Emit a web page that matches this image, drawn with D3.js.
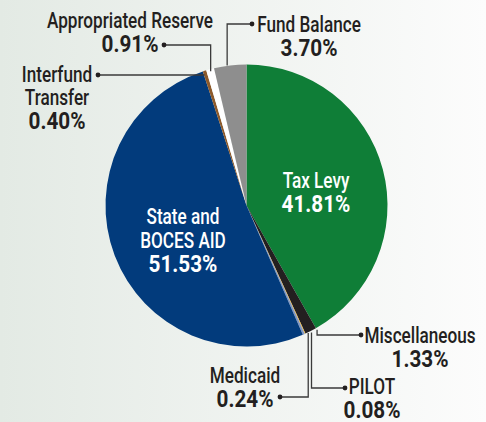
<!DOCTYPE html>
<html>
<head>
<meta charset="utf-8">
<script src="https://cdn.jsdelivr.net/npm/d3@7"></script>
<style>
  html, body { margin: 0; padding: 0; }
  body { width: 486px; height: 422px; overflow: hidden; }
  text { font-family: Roboto, "DejaVu Sans Condensed", sans-serif; }
</style>
</head>
<body>
<div id="chart"></div>
<script>
// Revenue sources, clockwise from 12 o'clock
const categories = ["Tax Levy", "Miscellaneous", "PILOT", "Medicaid", "State and BOCES AID",
  "Interfund Transfer", "Appropriated Reserve", "Fund Balance"];
const shares = [41.81, 1.33, 0.08, 0.24, 51.53, 0.40, 0.91, 3.70];
const colors = ["#0f7e37", "#231f20", "#f2b42c", "#8197c4", "#023b7c", "#8d5a2b", "#ffffff", "#8e8e8e"];
// how each category name is broken into rows
const labelLines = [["Tax Levy"], ["Miscellaneous"], ["PILOT"], ["Medicaid"], ["State and", "BOCES AID"],
  ["Interfund", "Transfer"], ["Appropriated Reserve"], ["Fund Balance"]];

const width = 486, height = 422;
const cx = 246.5, cy = 205.5, radius = 141;

const svg = d3.select("#chart").append("svg")
  .attr("width", width)
  .attr("height", height);

// soft background gradient, greenish grey on the left to white on the right
const grad = svg.append("defs").append("linearGradient")
  .attr("id", "bg").attr("x1", "0%").attr("x2", "100%").attr("y1", "0%").attr("y2", "0%");
grad.append("stop").attr("offset", "0%").attr("stop-color", "#e3eae4");
grad.append("stop").attr("offset", "100%").attr("stop-color", "#fcfcfc");
svg.append("rect").attr("width", width).attr("height", height).attr("fill", "url(#bg)");

const data = categories.map((c, i) => ({ name: c, value: shares[i], color: colors[i], lines: labelLines[i] }));

const pie = d3.pie().sort(null).value(d => d.value);
const arcs = pie(data);
const arc = d3.arc().innerRadius(0).outerRadius(radius);

const g = svg.append("g").attr("transform", `translate(${cx},${cy})`);

g.selectAll("path.slice")
  .data(arcs)
  .join("path")
  .attr("class", "slice")
  .attr("d", arc)
  .attr("fill", d => d.data.color);

// point on the rim at the middle of a slice
function rimPoint(d, r) {
  const a = (d.startAngle + d.endAngle) / 2;
  return [cx + r * Math.sin(a), cy - r * Math.cos(a)];
}

// condensed look: squeeze the text horizontally
function label(x, y, str, bold, fill) {
  svg.append("text")
    .attr("transform", `translate(${x},${y}) scale(${bold ? 0.9 : 0.78},1)`)
    .attr("text-anchor", "middle")
    .attr("font-size", bold ? 23 : 22)
    .attr("font-weight", bold ? "bold" : 500)
    .attr("fill", fill)
    .text(str);
}

function pct(v) { return v.toFixed(2) + "%"; }

// inside labels (white)
const inside = {
  "Tax Levy": { x: 316, y: 188 },
  "State and BOCES AID": { x: 183, y: 224 }
};
arcs.filter(d => inside[d.data.name]).forEach(d => {
  const p = inside[d.data.name];
  d.data.lines.forEach((ln, i) => label(p.x, p.y + i * 24, ln, false, "#ffffff"));
  label(p.x, p.y + d.data.lines.length * 24, pct(d.data.value), true, "#ffffff");
});

// outside labels with leader lines: text position, dot position, and how the line bends
const outside = {
  "Appropriated Reserve": { x: 130, y: 28, dot: [164, 45], r: 0.985, bend: "hv" },
  "Fund Balance": { x: 309, y: 32, dot: [252, 24], r: 1.0, bend: "hv", dx: -3 },
  "Interfund Transfer": { x: 57, y: 82, dot: [98, 75], r: 1.0, bend: "h" },
  "Miscellaneous": { x: 420, y: 343, dot: [361, 335], r: 0.99, bend: "hv", dx: 7 },
  "PILOT": { x: 372, y: 394, dot: [345, 388], r: 0.99, bend: "hv", dx: 7 },
  "Medicaid": { x: 245, y: 383, dot: [280, 397], r: 0.99, bend: "hv", dx: 5 }
};

arcs.filter(d => outside[d.data.name]).forEach(d => {
  const o = outside[d.data.name];
  const rp = rimPoint(d, radius * o.r);
  const ax = rp[0] + (o.dx || 0);
  const pts = o.bend === "h"
    ? [o.dot, [ax, o.dot[1]]]
    : [o.dot, [ax, o.dot[1]], [ax, rp[1]]];
  svg.append("path")
    .attr("d", d3.line()(pts))
    .attr("fill", "none")
    .attr("stroke", "#3a3a3a")
    .attr("stroke-width", 1.3);
  svg.append("circle")
    .attr("cx", o.dot[0]).attr("cy", o.dot[1]).attr("r", 2.4)
    .attr("fill", "#231f20");

  d.data.lines.forEach((ln, i) => label(o.x, o.y + i * 23, ln, false, "#231f20"));
  label(o.x, Math.min(o.y + d.data.lines.length * 23 + 1, 418), pct(d.data.value), true, "#231f20");
});
</script>
</body>
</html>
